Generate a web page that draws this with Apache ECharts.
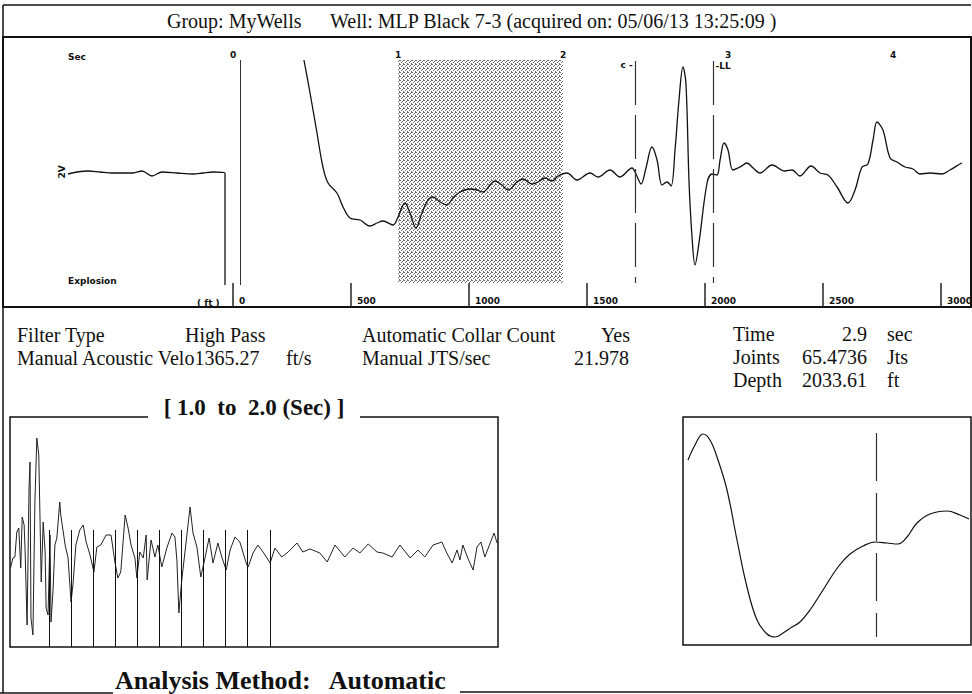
<!DOCTYPE html>
<html lang="en">
<head>
    <meta charset="UTF-8">
    <title>Acoustic shot - MLP Black 7-3</title>
    <style type="text/css">
        html,
        body,
        #chart {
            padding: 0;
            margin: 0;
            overflow: hidden;
            background-color: #fff;
            width: 100%;
            height: 100%;
        }
    </style>
</head>
<body>
<div id="chart"></div>
<script type="text/javascript" src="https://cdn.jsdelivr.net/npm/echarts/dist/echarts.min.js"></script>
<script>
    // main shot trace: time (sec) / amplitude
    const traceTime = [0.430, 0.467, 0.509, 0.545, 0.576, 0.630, 0.667, 0.709, 0.770, 0.830, 0.873, 0.909, 0.970,
        1.000, 1.042, 1.073, 1.109, 1.145, 1.182, 1.212, 1.255, 1.297, 1.333, 1.376, 1.436, 1.479, 1.515, 1.558,
        1.588, 1.630, 1.667, 1.721, 1.758, 1.812, 1.848, 1.891, 1.933, 1.970,
        2.024, 2.085, 2.164, 2.212, 2.285, 2.345, 2.418, 2.442, 2.473, 2.503, 2.539, 2.570, 2.600, 2.630, 2.655,
        2.679, 2.703, 2.727, 2.745, 2.764, 2.782, 2.800, 2.824, 2.873, 2.903, 2.933, 2.952, 2.976,
        3.000, 3.030, 3.073, 3.115, 3.152, 3.194, 3.267, 3.345, 3.388, 3.436, 3.503, 3.558, 3.606, 3.661, 3.727,
        3.770, 3.812, 3.848, 3.879, 3.903, 3.939, 3.982,
        4.024, 4.073, 4.121, 4.164, 4.224, 4.297, 4.345, 4.406, 4.418];
    const traceAmp = [112, 79, 39, 5, -11, -21, -35, -46, -48, -54, -51, -49, -53,
        -45, -31, -41, -56, -41, -28, -25, -30, -33, -26, -20, -17, -18, -20, -13,
        -9, -13, -18, -10, -7, -12, -10, -6, -9, -4,
        -1, -8, -1, -5, 2, -5, 4, -2, -12, 4, 25, 12, -13, -10, -14,
        22, 72, 105, 89, -11, -65, -93, -71, -11, -2, -3, 12, 29,
        22, 2, 5, 9, 4, -1, 7, 1, 2, -4, 6, -1, -3, -15, -31,
        -18, 5, 8, 32, 50, 42, 14,
        10, 5, 3, -2, -1, -2, 2, 8, 9];

    // explosion channel (ms / amplitude)
    const explosionMs = [0, 9, 20, 32, 44, 55, 65, 74, 84, 94, 109, 125, 135, 145, 157, 157];
    const explosionAmp = [-2, 0, 1, 0, -1, -1, -1, 1, -4, 0, -1, -2, -1, 0, -1, -113];

    // 1.0 - 2.0 sec window (high pass)
    const windowTime = [1.001, 1.006, 1.010, 1.014, 1.018, 1.022, 1.025, 1.029, 1.031, 1.035, 1.039, 1.041,
        1.043, 1.047, 1.051, 1.055, 1.059, 1.064, 1.068, 1.072, 1.074, 1.078, 1.082, 1.084, 1.088, 1.092,
        1.096, 1.102, 1.104, 1.113, 1.119, 1.125, 1.129, 1.135, 1.143, 1.150, 1.156, 1.164, 1.172, 1.178,
        1.186, 1.197, 1.207, 1.215, 1.221, 1.227, 1.236, 1.242, 1.248, 1.256, 1.260, 1.266, 1.273, 1.279,
        1.281, 1.289, 1.297, 1.303, 1.311, 1.322, 1.332, 1.338, 1.342, 1.346, 1.352, 1.359, 1.369, 1.375,
        1.383, 1.391, 1.400, 1.408, 1.416, 1.426, 1.434, 1.443, 1.451, 1.461, 1.471, 1.484, 1.488, 1.498,
        1.508, 1.520, 1.533, 1.543, 1.557, 1.570, 1.588, 1.600, 1.615, 1.635, 1.650, 1.666, 1.686, 1.703,
        1.717, 1.734, 1.752, 1.764, 1.783, 1.799, 1.820, 1.836, 1.850, 1.867, 1.885, 1.895, 1.906, 1.916,
        1.922, 1.928, 1.938, 1.949, 1.957, 1.965, 1.973, 1.984, 1.992, 1.998];
    const windowAmp = [-8, 2, 3, 28, 32, -8, 43, 35, 8, -65, 72, 98,
        -58, -75, 58, 122, 105, -22, 38, 8, -48, -55, 25, -62, -32, 15,
        22, 58, 45, 15, 2, -42, -25, 15, 30, 35, 18, 5, -12, 13,
        15, 25, 25, -2, -18, -12, 45, 32, 15, 2, -18, 8, 2, 25,
        -20, 20, 3, 15, -7, 13, 27, 23, 0, -53, -20, 10, 53, 27,
        13, -17, 3, 22, -3, 17, 3, -10, 10, 23, 18, -3, -7, 7,
        15, 7, -3, 12, 3, 8, 17, 8, 11, 7, -2, 15, 3, 12,
        7, 16, 8, 7, 3, 15, 2, 10, 3, 15, 18, 7, -3, 10,
        0, 15, 2, -10, 13, 18, 3, 17, 27, 17];
    const collarTimes = [1.080, 1.125, 1.170, 1.215, 1.260, 1.305, 1.350, 1.395, 1.441, 1.486, 1.533];
    const collarTop = 30;

    // detail around the liquid level pick
    const detailTime = [2.712, 2.719, 2.727, 2.734, 2.742, 2.751, 2.761, 2.771, 2.781, 2.791, 2.799, 2.807,
        2.816, 2.824, 2.834, 2.847, 2.862, 2.874, 2.887, 2.899, 2.911, 2.922, 2.931, 2.941, 2.954, 2.971,
        2.984, 2.993];
    const detailAmp = [80, 95, 106, 100, 80, 50, 0, -47, -80, -94, -97, -93,
        -87, -82, -70, -50, -27, -14, -6, -2, -3, -4, 3, 17, 26, 29,
        25, 21];

    const collarMarkTime = 2.44;
    const liquidLevelTime = 2.91;
    const pickTime = 2.9;
    const explosionMarkTime = 0.042;

    const zip = (a, b) => a.map((v, i) => [v, b[i]]);
    const serif = '"Liberation Serif", "Times New Roman", serif';
    const tiny = 'bold 9px "DejaVu Sans", sans-serif';

    // stipple tile for the analysis window
    function stipple() {
        const c = document.createElement('canvas');
        c.width = 4;
        c.height = 4;
        const ctx = c.getContext('2d');
        ctx.fillStyle = '#fff';
        ctx.fillRect(0, 0, 4, 4);
        ctx.fillStyle = '#6a6a6a';
        [[0, 0], [2, 1], [1, 2], [3, 3], [3, 0]].forEach(p => ctx.fillRect(p[0], p[1], 1, 1));
        return c;
    }

    function txt(x, y, text, font, align, extra) {
        return Object.assign({
            type: 'text',
            x: x,
            y: y,
            style: {
                text: text,
                font: font,
                fill: '#111',
                align: align || 'left',
                textAlign: align || 'left',
                verticalAlign: 'middle',
                textVerticalAlign: 'middle'
            }
        }, extra || {});
    }

    function ln(x1, y1, x2, y2, w) {
        return {
            type: 'line',
            shape: {x1: x1, y1: y1, x2: x2, y2: y2},
            style: {stroke: '#111', lineWidth: w || 1.5}
        };
    }

    const f20 = '20px ' + serif;
    const graphics = [
        ln(3, 5, 971, 5, 1.5),
        ln(3, 5, 3, 693, 1.5),
        ln(0, 693, 113, 693, 1.5),
        ln(460, 692, 972, 692, 1.5),
        {
            type: 'rect',
            shape: {x: 3, y: 37, width: 968, height: 270},
            style: {fill: 'none', stroke: '#111', lineWidth: 2}
        },
        {
            type: 'polyline',
            shape: {points: [[148, 417], [10, 417], [10, 647], [498, 647], [498, 417], [360, 417]]},
            style: {fill: 'none', stroke: '#111', lineWidth: 1.5}
        },
        txt(167, 21, 'Group: MyWells', f20),
        txt(330, 21, 'Well: MLP Black 7-3 (acquired on: 05/06/13 13:25:09 )', f20),
        txt(68, 57, 'Sec', tiny),
        txt(68, 281, 'Explosion', tiny),
        txt(197, 303, '( ft )', tiny),
        txt(62, 172, '2V', tiny, 'center', {rotation: Math.PI / 2}),
        txt(17, 335, 'Filter Type', f20),
        txt(185, 335, 'High Pass', f20),
        txt(362, 335, 'Automatic Collar Count', f20),
        txt(630, 335, 'Yes', f20, 'right'),
        txt(733, 334, 'Time', f20),
        txt(867, 334, '2.9', f20, 'right'),
        txt(887, 334, 'sec', f20),
        txt(17, 358, 'Manual Acoustic Velo1365.27', f20),
        txt(286, 358, 'ft/s', f20),
        txt(362, 358, 'Manual JTS/sec', f20),
        txt(629, 358, '21.978', f20, 'right'),
        txt(733, 357, 'Joints', f20),
        txt(867, 357, '65.4736', f20, 'right'),
        txt(887, 357, 'Jts', f20),
        txt(733, 380, 'Depth', f20),
        txt(867, 380, '2033.61', f20, 'right'),
        txt(887, 380, 'ft', f20),
        txt(254, 407, '[ 1.0\u00a0 to\u00a0 2.0 (Sec) ]', 'bold 23px ' + serif, 'center'),
        txt(115, 680, 'Analysis Method:\u00a0\u00a0 Automatic', 'bold 26px ' + serif)
    ];

    const noSym = ['none', 'none'];
    const markFont = {fontSize: 9, fontWeight: 'bold', fontFamily: 'DejaVu Sans', color: '#111'};
    const chart = echarts.init(document.getElementById('chart'), null, {renderer: 'svg'});
    chart.setOption({
        animation: false,
        backgroundColor: '#fff',
        grid: [
            {left: 233, right: 1, top: 37, bottom: 387, outerBoundsMode: 'none', containLabel: false},
            {left: 68, right: 747, top: 37, bottom: 387, outerBoundsMode: 'none', containLabel: false},
            {left: 10, right: 474, top: 417, bottom: 47, outerBoundsMode: 'none', containLabel: false},
            {
                left: 683, right: 1, top: 417, bottom: 49, outerBoundsMode: 'none', containLabel: false,
                show: true, borderColor: '#111', borderWidth: 1.5, backgroundColor: 'transparent'
            }
        ],
        xAxis: [
            {
                type: 'value', gridIndex: 0, position: 'top', min: 0, max: 4.4727, interval: 1,
                axisLine: {show: false}, axisTick: {show: false}, splitLine: {show: false},
                axisLabel: {
                    inside: true, margin: 13, fontSize: 9, fontWeight: 'bold', fontFamily: 'DejaVu Sans',
                    color: '#111', showMaxLabel: false, formatter: v => String(v)
                }
            },
            {
                type: 'value', gridIndex: 0, position: 'bottom', min: 0, max: 3127, interval: 500,
                axisLine: {show: false}, splitLine: {show: false},
                axisTick: {show: true, inside: true, length: 24, lineStyle: {color: '#222', width: 1.5}},
                axisLabel: {
                    inside: true, margin: 2, align: 'left', padding: [0, 0, 0, 6], fontSize: 9,
                    fontWeight: 'bold', fontFamily: 'DejaVu Sans', color: '#111', showMaxLabel: false,
                    formatter: v => String(v)
                }
            },
            {type: 'value', gridIndex: 1, min: 0, max: 157, show: false},
            {type: 'value', gridIndex: 2, min: 1, max: 2, show: false},
            {type: 'value', gridIndex: 3, min: 2.707, max: 2.995, show: false}
        ],
        yAxis: [
            {type: 'value', gridIndex: 0, min: -135, max: 135, show: false},
            {type: 'value', gridIndex: 1, min: -135, max: 135, show: false},
            {type: 'value', gridIndex: 2, min: -87, max: 143, show: false},
            {type: 'value', gridIndex: 3, min: -105, max: 123, show: false}
        ],
        series: [
            {
                type: 'line', xAxisIndex: 0, yAxisIndex: 0, data: zip(traceTime, traceAmp),
                smooth: 0.35, showSymbol: false, silent: true,
                lineStyle: {color: '#111', width: 1.3},
                markArea: {
                    silent: true,
                    itemStyle: {color: {image: stipple(), repeat: 'repeat'}},
                    data: [[{coord: [1, 112]}, {coord: [2, -111]}]]
                },
                markLine: {
                    silent: true, symbol: noSym,
                    data: [
                        [{coord: [explosionMarkTime, 112], lineStyle: {type: 'solid', width: 1, color: '#333'}},
                            {coord: [explosionMarkTime, -113]}],
                        [{
                            coord: [collarMarkTime, 111],
                            label: Object.assign({show: true, position: 'start', formatter: 'c -',
                                padding: [0, 18, 0, 0], distance: -8}, markFont)
                        }, {coord: [collarMarkTime, -111]}],
                        [{
                            coord: [liquidLevelTime, 111],
                            label: Object.assign({show: true, position: 'start', formatter: '-LL',
                                padding: [0, 0, 0, 20], distance: -9}, markFont)
                        }, {coord: [liquidLevelTime, -111]}]
                    ],
                    lineStyle: {type: [44, 10], color: '#333', width: 1.2},
                    label: {show: false}
                }
            },
            {
                type: 'line', xAxisIndex: 2, yAxisIndex: 1, data: zip(explosionMs, explosionAmp),
                smooth: 0.3, showSymbol: false, silent: true,
                lineStyle: {color: '#111', width: 1.3}
            },
            {
                type: 'line', xAxisIndex: 3, yAxisIndex: 2, data: zip(windowTime, windowAmp),
                showSymbol: false, silent: true,
                lineStyle: {color: '#222', width: 1},
                markLine: {
                    silent: true, symbol: noSym, label: {show: false},
                    lineStyle: {type: 'solid', color: '#111', width: 1},
                    data: collarTimes.map(t => [{coord: [t, collarTop]}, {coord: [t, -87]}])
                }
            },
            {
                type: 'line', xAxisIndex: 4, yAxisIndex: 3, data: zip(detailTime, detailAmp),
                smooth: 0.4, showSymbol: false, silent: true,
                lineStyle: {color: '#111', width: 1.2},
                markLine: {
                    silent: true, symbol: noSym, label: {show: false},
                    lineStyle: {type: [48, 12], color: '#333', width: 1.2},
                    data: [[{coord: [pickTime, 107]}, {coord: [pickTime, -97]}]]
                }
            }
        ],
        graphic: graphics
    });
</script>
</body>
</html>
